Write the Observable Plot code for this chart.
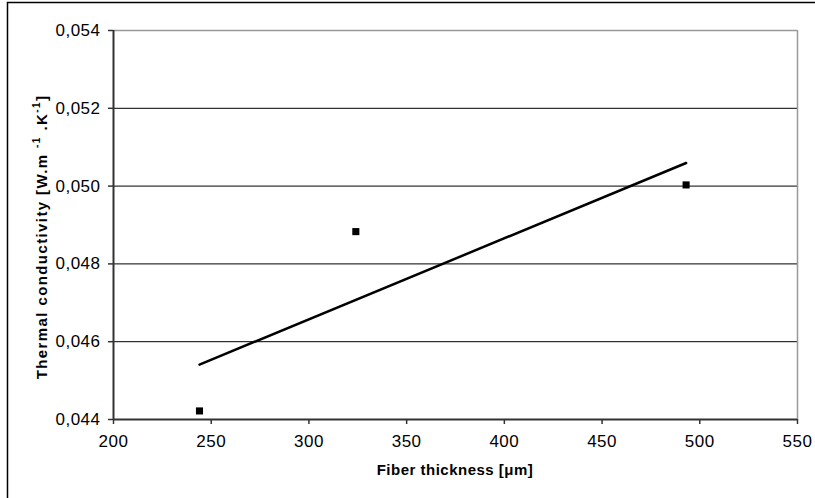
<!DOCTYPE html>
<html><head><meta charset="utf-8">
<script src="https://cdn.jsdelivr.net/npm/d3@7"></script>
<script src="https://cdn.jsdelivr.net/npm/@observablehq/plot@0.6"></script>
<style>body{margin:0;background:#fff;} #chart svg{display:block;}</style>
</head><body><div id="chart"></div>
<script>
const thickness = [244, 324, 493];
const conductivity = [0.04422, 0.04883, 0.05003];
const xTicks = [200, 250, 300, 350, 400, 450, 500, 550];
const yTicks = [0.044, 0.046, 0.048, 0.050, 0.052, 0.054];
const xLabel = "Fiber thickness [μm]";
const yLabelMain = "Thermal conductivity [W.m ";
const yLabelUnit = ["-1", " .K", "-1", "]"];

const data = thickness.map((t, i) => ({t, k: conductivity[i]}));
const fmt = d => d3.format(".3f")(d).replace(".", ",");
const font = "'Liberation Sans', Arial, sans-serif";

const chart = Plot.plot({
  width: 815, height: 498,
  marginLeft: 113, marginRight: 18, marginTop: 30, marginBottom: 79,
  style: {fontFamily: font, fontSize: "17px", color: "#000", background: "#fff", letterSpacing: "0.5px"},
  x: {domain: [200, 550], label: null},
  y: {domain: [0.044, 0.054], label: null},
  marks: [
    Plot.ruleY(yTicks.slice(1, -1), {stroke: "#000", strokeWidth: 1}),
    Plot.ruleY([0.054], {stroke: "#999", strokeWidth: 1.5}),
    Plot.ruleX([550], {stroke: "#999", strokeWidth: 1.5}),
    Plot.axisX({ticks: xTicks, tickSize: 5, tickPadding: 10, stroke: "#333", strokeWidth: 1.5, fill: "#000", label: null, fontSize: 17}),
    Plot.axisY({ticks: yTicks, tickFormat: fmt, tickSize: 5, tickPadding: 8, stroke: "#333", strokeWidth: 1.5, fill: "#000", label: null, fontSize: 17}),
    Plot.ruleY([0.044], {stroke: "#333", strokeWidth: 2}),
    Plot.ruleX([200], {stroke: "#333", strokeWidth: 2}),
    Plot.linearRegressionY(data, {x: "t", y: "k", stroke: "#000", strokeWidth: 2.5, ci: 0}),
    Plot.dot(data, {x: "t", y: "k", symbol: "square", r: 4, fill: "#000", stroke: null})
  ]
});
document.getElementById("chart").appendChild(chart);

const svg = d3.select(chart);
svg.append("rect")
  .attr("x", 7.5).attr("y", 2.5).attr("width", 830).attr("height", 520)
  .attr("fill", "none").attr("stroke", "#000").attr("stroke-width", 1.5);

svg.append("text")
  .attr("x", 455).attr("y", 475)
  .attr("text-anchor", "middle")
  .attr("font-family", font).attr("font-weight", "bold").attr("font-size", 15)
  .attr("letter-spacing", "0.5px")
  .attr("fill", "#000")
  .text(xLabel);

const yl = svg.append("text")
  .attr("transform", "translate(47,237) rotate(-90)")
  .attr("text-anchor", "middle")
  .attr("font-family", font).attr("font-weight", "bold").attr("font-size", 15)
  .attr("letter-spacing", "1.4px")
  .attr("fill", "#000");
yl.append("tspan").text(yLabelMain);
yl.append("tspan").attr("font-size", 10).attr("dy", -7).text(yLabelUnit[0]);
yl.append("tspan").attr("dy", 7).text(yLabelUnit[1]);
yl.append("tspan").attr("font-size", 10).attr("dy", -7).text(yLabelUnit[2]);
yl.append("tspan").attr("dy", 7).text(yLabelUnit[3]);
</script>
</body></html>
